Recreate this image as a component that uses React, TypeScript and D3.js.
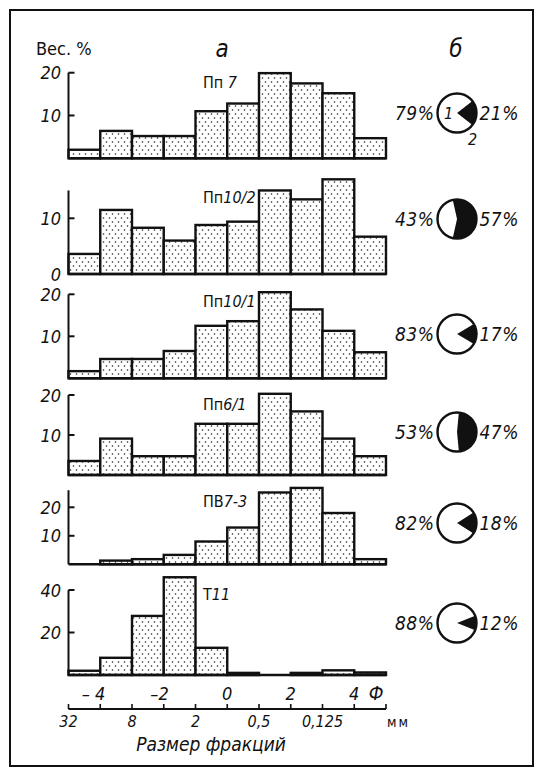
import * as d3 from 'd3';

// samples, top to bottom
const sampleNames = ['Пп 7', 'Пп10/2', 'Пп10/1', 'Пп6/1', 'ПВ7-3', 'Т11'];
// lower phi bound of each 1-phi fraction
const binStarts = [-5, -4, -3, -2, -1, 0, 1, 2, 3, 4];

// weight %, one value per fraction
const valuesPp7 = [2, 6.4, 5.2, 5.2, 11, 12.8, 19.9, 17.5, 15.2, 4.7];
const valuesPp10_2 = [3.6, 11.5, 8.3, 6.0, 8.8, 9.4, 15.0, 13.4, 17.0, 6.7];
const valuesPp10_1 = [1.7, 4.6, 4.6, 6.5, 12.5, 13.6, 20.5, 16.4, 11.3, 6.2];
const valuesPp6_1 = [3.5, 9.1, 4.7, 4.7, 12.8, 12.8, 20.3, 15.9, 9.1, 4.7];
const valuesPv7_3 = [0, 1.3, 1.8, 3.3, 8.0, 12.9, 25.2, 26.8, 18.0, 1.8];
const valuesT11 = [2, 8.1, 27.8, 46, 12.8, 1, 0, 1, 2.2, 1.2];
const sampleValues = [valuesPp7, valuesPp10_2, valuesPp10_1, valuesPp6_1, valuesPv7_3, valuesT11];

const yTicks = [[10, 20], [0, 10], [10, 20], [10, 20], [10, 20], [20, 40]];
const axisTopValue = [20, 15, 20, 20, 26, 40];

// pie shares (б): part 1 (white) / part 2 (black)
const whiteShare = [79, 43, 83, 53, 82, 88];
const blackShare = [21, 57, 17, 47, 18, 12];

const phiTicks = [-4, -2, 0, 2, 4];
const phiTickLabels = ['– 4', '–2', '0', '2', '4'];
const mmTicks = [-5, -3, -1, 1, 3];
const mmTickLabels = ['32', '8', '2', '0,5', '0,125'];
const allPhi = [-5, -4, -3, -2, -1, 0, 1, 2, 3, 4, 5];

// layout
const W = 539;
const H = 769;
const panelBaseline = [158.3, 274, 378.3, 475, 564.3, 675];
const panelPxPerUnit = [4.28, 5.57, 4.2, 4.0, 2.85, 2.125];
const pieCenterY = [113, 219, 334, 432, 523, 623];
const nameBaselineY = [88, 203, 307, 410, 507, 600];
const pieX = 457;
const pieR = 19.5;

const font = "'DejaVu Sans Condensed', 'DejaVu Sans', sans-serif";

const x = d3.scaleLinear().domain([-5, 5]).range([68.5, 386]);

const Panel = ({ i }: { i: number }) => {
  const base = panelBaseline[i];
  const top = axisTopValue[i];
  const y = d3.scaleLinear().domain([0, 1]).range([base, base - panelPxPerUnit[i]]);
  const vals = sampleValues[i];
  const name = sampleNames[i];
  const m = name.match(/^([А-Яа-я]+)(.*)$/);
  const start = Math.PI / 2 - (blackShare[i] / 100) * Math.PI;
  const pie = d3.pie<number>().sort(null).startAngle(start).endAngle(start + 2 * Math.PI);
  const slices = pie([blackShare[i], whiteShare[i]]);
  const arc = d3.arc<d3.PieArcDatum<number>>().innerRadius(0).outerRadius(pieR);
  const cy = pieCenterY[i];

  return (
    <g>
      {binStarts.map((b, k) => vals[k] > 0 && (
        <rect key={k} x={x(b)} y={y(vals[k])} width={x(b + 1) - x(b)} height={base - y(vals[k])}
          fill="url(#dots)" stroke="#111" strokeWidth={2.4} />
      ))}
      <line x1={x(-5)} x2={x(5)} y1={base} y2={base} stroke="#111" strokeWidth={2.6} />
      <line x1={x(-5)} x2={x(-5)} y1={base} y2={y(top)} stroke="#111" strokeWidth={2} />
      {yTicks[i].map(t => (
        <g key={t}>
          {t > 0 && <line x1={x(-5)} x2={x(-5) + 6} y1={y(t)} y2={y(t)} stroke="#111" strokeWidth={2} />}
          <text x={61} y={y(t) + 6.5} textAnchor="end" fontFamily={font} fontStyle="italic" fontSize={18}
            fill="#111">{t}</text>
        </g>
      ))}
      <text x={203} y={nameBaselineY[i]} fontFamily={font} fontSize={16} fill="#111">
        <tspan>{m ? m[1] : name}</tspan>
        <tspan fontStyle="italic">{m ? m[2] : ''}</tspan>
      </text>
      {slices.map((s, k) => (
        <path key={k} d={arc(s) || ''} transform={`translate(${pieX},${cy})`}
          fill={k === 0 ? '#111' : '#fff'} stroke="#111" strokeWidth={k === 0 ? 1 : 0} />
      ))}
      <circle cx={pieX} cy={cy} r={pieR} fill="none" stroke="#111" strokeWidth={2.4} />
      <text x={pieX - pieR - 3} y={cy + 7} textAnchor="end" fontFamily={font} fontStyle="italic"
        fontSize={19} letterSpacing={0.5} fill="#111">{whiteShare[i]}%</text>
      <text x={pieX + pieR + 3} y={cy + 7} fontFamily={font} fontStyle="italic"
        fontSize={19} letterSpacing={0.5} fill="#111">{blackShare[i]}%</text>
      {i === 0 && (
        <g fontFamily={font} fontStyle="italic" fontSize={16} fill="#111">
          <text x={pieX - 13} y={cy + 6}>1</text>
          <text x={pieX + 11} y={cy + 32}>2</text>
        </g>
      )}
    </g>
  );
};

export default function App() {
  const axisY = 709;
  return (
    <svg width={W} height={H} style={{ position: 'absolute', left: 0, top: 0, background: '#fff' }}>
      <defs>
        <pattern id="dots" width={6} height={8} patternUnits="userSpaceOnUse">
          <rect width={6} height={8} fill="#fff" />
          <circle cx={1.5} cy={2} r={0.8} fill="#222" />
          <circle cx={4.5} cy={6} r={0.8} fill="#222" />
        </pattern>
      </defs>
      <rect x={0} y={0} width={W} height={H} fill="#fff" />
      <rect x={10} y={10} width={523} height={756} fill="none" stroke="#111" strokeWidth={2} />

      <text x={36} y={55} fontFamily={font} fontSize={18} fill="#111">Вес. %</text>
      <text x={222} y={57} textAnchor="middle" fontFamily={font} fontStyle="italic" fontSize={24} fill="#111">а</text>
      <text x={456} y={57} textAnchor="middle" fontFamily={font} fontStyle="italic" fontSize={24} fill="#111">б</text>

      {sampleNames.map((_, i) => <Panel key={i} i={i} />)}

      {/* phi scale */}
      {phiTicks.map((p, k) => (
        <text key={p} x={x(p) + 5} y={700} textAnchor="end" fontFamily={font} fontStyle="italic"
          fontSize={18} fill="#111">{phiTickLabels[k]}</text>
      ))}
      <text x={376} y={700} textAnchor="middle" fontFamily={font} fontStyle="italic" fontSize={19} fill="#111">Ф</text>

      {/* mm scale */}
      <line x1={x(-5)} x2={x(5)} y1={axisY} y2={axisY} stroke="#111" strokeWidth={1.8} />
      {allPhi.map(p => (
        <line key={p} x1={x(p)} x2={x(p)} y1={axisY} y2={axisY - 5} stroke="#111" strokeWidth={1.6} />
      ))}
      {mmTicks.map((p, k) => (
        <text key={p} x={x(p)} y={727} textAnchor="middle" fontFamily={font} fontStyle="italic"
          fontSize={16} fill="#111">{mmTickLabels[k]}</text>
      ))}
      <text x={387} y={727} fontFamily={font} fontSize={14} letterSpacing={2} fill="#111">мм</text>
      <text x={211} y={751} textAnchor="middle" fontFamily={font} fontStyle="italic" fontSize={19}
        fill="#111">Размер фракций</text>
    </svg>
  );
}
